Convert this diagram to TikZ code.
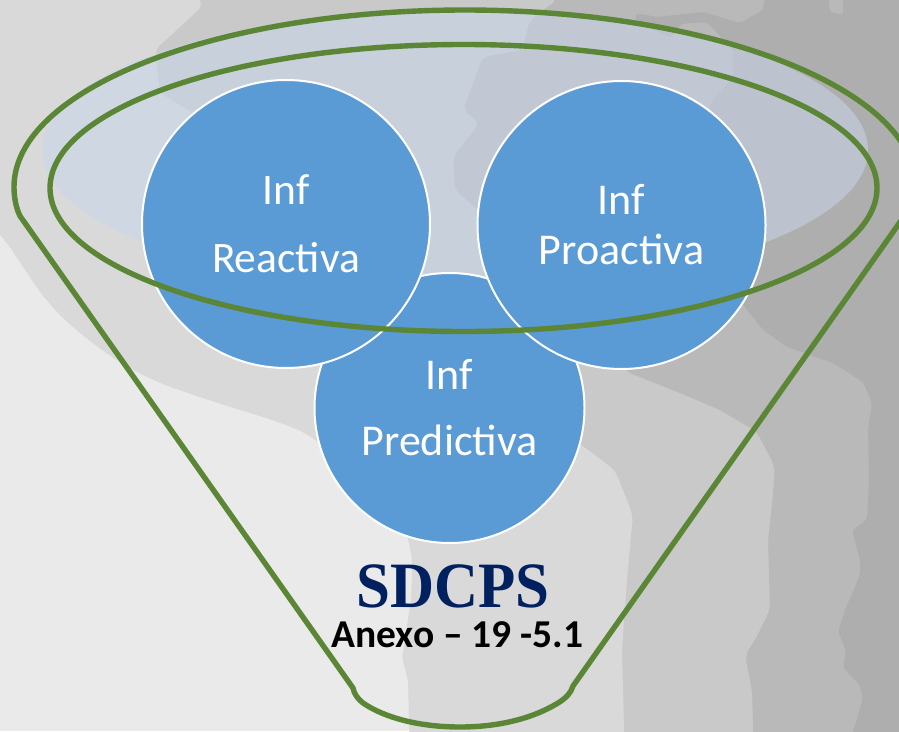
\documentclass[tikz,border=0pt]{standalone}
\usepackage{fontspec}
\setmainfont{Carlito}
\newfontfamily\serifbold[BoldFont={Liberation Serif Bold}]{Liberation Serif}
\definecolor{bgzero}{HTML}{EAEAEA}
\definecolor{bgone}{HTML}{D9D9D9}
\definecolor{bgtwo}{HTML}{C9C9C9}
\definecolor{bgthree}{HTML}{B9B9B9}
\definecolor{bgfour}{HTML}{AEAEAE}
\definecolor{glass}{HTML}{C8D6EB}
\definecolor{funnelgreen}{HTML}{5B8636}
\definecolor{bubbleblue}{HTML}{5B9BD5}
\definecolor{navy}{HTML}{002060}
\tikzset{
  land/.style={rounded corners=7pt},
  funnelline/.style={draw=funnelgreen,line width=5.4pt,line join=round},
  bubble/.style={circle,fill=bubbleblue,draw=white,line width=2pt,text=white,inner sep=0pt,align=center},
}
\begin{document}
\begin{tikzpicture}[x=1pt,y=-1pt]
\useasboundingbox (0,0) rectangle (899,731);
\clip (0,0) rectangle (899,731);
\fill[bgzero] (0,0) rectangle (899,731);
% map layers
\fill[bgone,rounded corners=25pt] (-40,-40) -- (-40,195) -- (0,232) -- (23,267) -- (50,307) -- (100,350) -- (150,380) -- (217,403) -- (283,423) -- (317,438) -- (400,520) -- (413,543) [rounded corners=4pt] -- (411,600) -- (402,658) -- (408,680) -- (410,760) -- (940,760) -- (940,-40) -- cycle;
\fill[bgtwo,land] (190,-20) -- (203,6) -- (155,50) -- (157,67) -- (160,93) -- (200,117) -- (300,200) -- (400,270) -- (520,400) -- (583,446) -- (615,470) -- (633,515) -- (627,580) -- (622,650) -- (625,760) -- (940,760) -- (940,-20) -- cycle;
\fill[bgthree,land] (557,-20) -- (557,0) -- (530,20) -- (522,50) -- (483,57) -- (463,110) -- (480,123) -- (453,157) -- (455,190) -- (490,220) -- (600,340) -- (627,372) -- (680,393) -- (720,410) -- (757,432) -- (775,467) -- (772,505) -- (768,540) -- (770,610) -- (755,640) -- (745,655) -- (752,690) -- (754,760) -- (940,760) -- (940,-20) -- cycle;
\fill[bgfour,rounded corners=4pt] (767,-20) -- (763,10) -- (740,23) -- (703,12) -- (657,17) -- (635,13) -- (637,23) -- (672,38) -- (680,24) -- (707,22) -- (720,36) -- (733,50) -- (733,77) -- (710,103) -- (700,200) -- (743,305) -- (763,330) -- (787,347) -- (833,363) -- (863,382) -- (872,403) -- (868,430) -- (869,480) -- (868,500) -- (867,520) -- (852,530) -- (860,560) -- (860,575) -- (845,610) -- (838,632) -- (846,650) -- (843,668) -- (860,685) -- (863,698) -- (858,715) -- (845,760) -- (940,760) -- (940,-20) -- cycle;
\fill[bgthree,rounded corners=3pt] (828,-5) -- (830,12) -- (843,15) -- (843,-5) -- cycle;
% translucent ellipse
\fill[glass,opacity=.55] (455,150) ellipse [x radius=413pt,y radius=140pt];
% bubbles
\node[bubble,minimum size=270pt,font=\fontsize{44}{66}\selectfont] (pred) at (449.5,408) {Inf\\Predictiva};
\node[bubble,minimum size=288pt,font=\fontsize{43.5}{68}\selectfont] (reac) at (286,224) {Inf\\Reactiva};
\node[bubble,minimum size=288pt,font=\fontsize{44}{50}\selectfont] (proa) at (621.5,225) {Inf\\Proactiva};
% funnel
\draw[funnelline] (20,216) .. controls (16,208) and (14,197) .. (14,187)
  arc[start angle=180,end angle=0,x radius=451pt,y radius=177pt]
  .. controls (916,197) and (913,204) .. (905,215)
  -- (573,686) .. controls (571,693) and (566,698) .. (558,703)
  .. controls (530,720) and (495,727) .. (460,727)
  .. controls (420,727) and (385,718) .. (363,703)
  .. controls (358,699) and (354,694) .. (353,688) -- cycle;
\draw[funnelline] (463.5,188) ellipse [x radius=413.5pt,y radius=143.5pt];
% captions
\node[anchor=base,text=navy,font=\serifbold\bfseries\fontsize{61}{61}\selectfont,inner sep=0pt] (sdcps) at (453,607) {\scalebox{1}[1.06]{SDCPS}};
\node[anchor=base,text=black,font=\bfseries\fontsize{39.5}{39.5}\selectfont,inner sep=0pt] (anexo) at (457.5,647) {Anexo – 19 -5.1};
\end{tikzpicture}
\end{document}
